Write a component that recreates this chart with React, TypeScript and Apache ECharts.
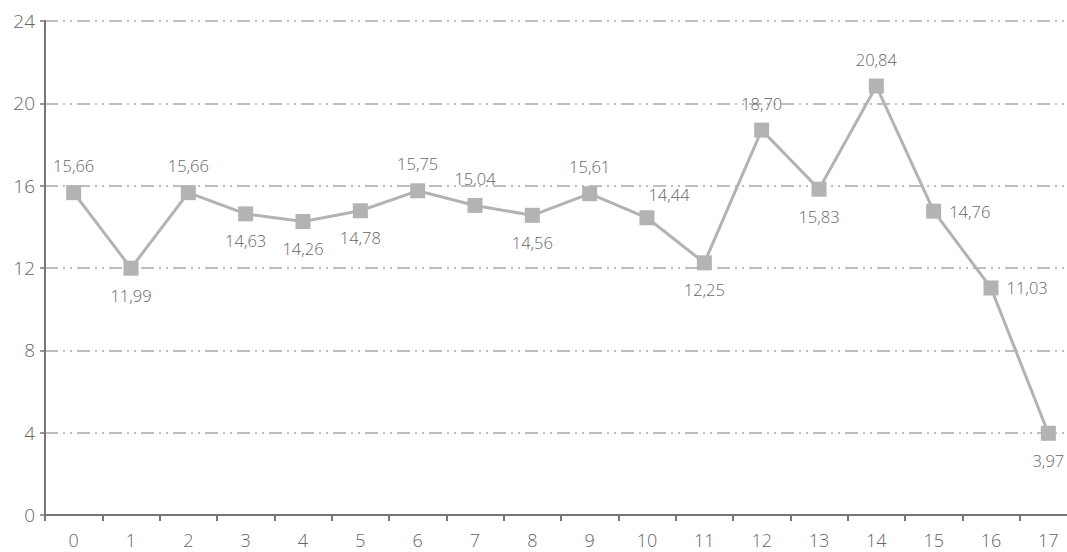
import React, { useEffect, useRef } from "react";
import * as echarts from "echarts";

const categories = ["0","1","2","3","4","5","6","7","8","9","10","11","12","13","14","15","16","17"];
const values = [15.66, 11.99, 15.66, 14.63, 14.26, 14.78, 15.75, 15.04, 14.56, 15.61, 14.44, 12.25, 18.70, 15.83, 20.84, 14.76, 11.03, 3.97];
const labelPos = ["top","bottom","top","bottom","bottom","bottom","top","top","bottom","top","topright","bottom","top","bottom","top","right","right","bottom"];

export default function App() {
  const ref = useRef<HTMLDivElement>(null);
  useEffect(() => {
    const chart = echarts.init(ref.current!, null, { renderer: "svg" });
    const font = "'Open Sans', sans-serif";
    const data = values.map((v, i) => {
      const p = labelPos[i];
      let label: any = { position: p };
      if (p === "topright") label = { position: "top", offset: [22, 4] };
      if (p === "right") label = { position: "right", distance: 8 };
      return { value: v, label };
    });
    chart.setOption({
      animation: false,
      grid: { left: 45, right: 0, top: 21, bottom: 37, containLabel: false },
      xAxis: {
        type: "category",
        data: categories,
        boundaryGap: true,
        axisLine: { lineStyle: { color: "#777", width: 2 } },
        axisTick: { show: true, length: 6, lineStyle: { color: "#777", width: 2 } },
        axisLabel: { color: "#666", fontSize: 18, fontWeight: 300, fontFamily: font, margin: 16 },
        splitLine: { show: false },
      },
      yAxis: {
        type: "value",
        min: 0,
        max: 24,
        interval: 4,
        axisLine: { show: true, lineStyle: { color: "#777", width: 2 } },
        axisTick: { show: true, length: 5, lineStyle: { color: "#777", width: 1.5 } },
        axisLabel: { color: "#666", fontSize: 19, fontWeight: 300, fontFamily: font, margin: 10 },
        splitLine: { show: true, lineStyle: { color: "#aaa", width: 1.5, type: [13, 5, 2, 5, 2, 5] } },
      },
      series: [
        {
          type: "line",
          data,
          symbol: "rect",
          symbolSize: 15,
          lineStyle: { color: "#b3b3b3", width: 3 },
          itemStyle: { color: "#b3b3b3" },
          label: {
            show: true,
            color: "#666",
            fontSize: 16.5,
            fontWeight: 300,
            fontFamily: font,
            distance: 11,
            formatter: (p: any) => p.value.toFixed(2).replace(".", ","),
          },
        },
      ],
    });
    return () => chart.dispose();
  }, []);
  return (
    <div style={{ position: "absolute", left: 0, top: 0, width: 1067, height: 552, overflow: "hidden", background: "#fff" }}>
      <div ref={ref} style={{ width: 1077, height: 552 }} />
    </div>
  );
}
